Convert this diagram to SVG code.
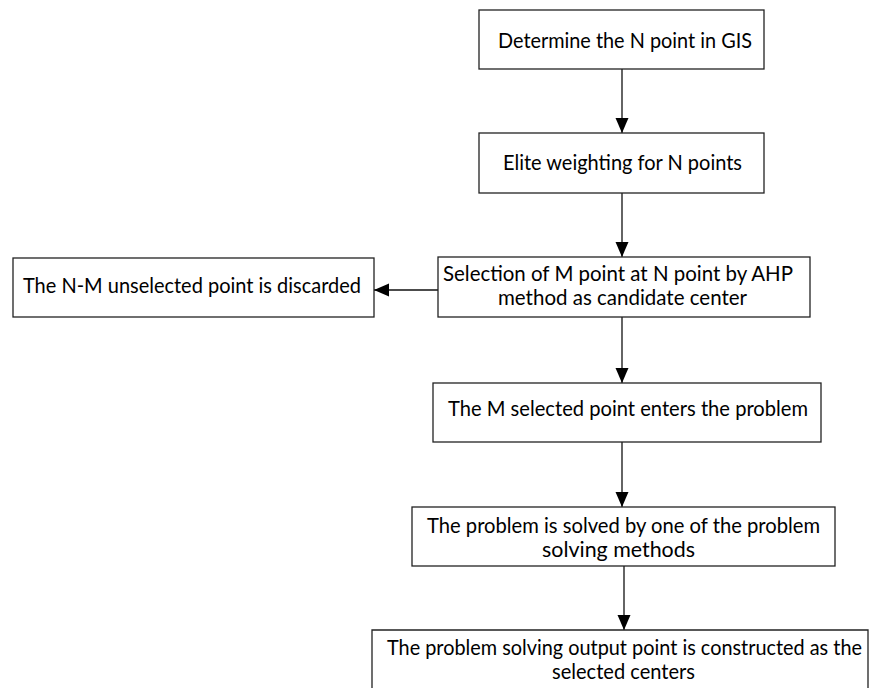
<svg xmlns="http://www.w3.org/2000/svg" width="871" height="688" viewBox="0 0 871 688">
<style>
.box{fill:#fff;stroke:#222;stroke-width:1.3}
.t{font-family:Lato,"Open Sans","Liberation Sans",sans-serif;font-size:21px;fill:#000}
.c{stroke:#111;stroke-width:1.3;fill:none;marker-end:url(#ah)}
</style>
<defs>
<marker id="ah" markerWidth="15" markerHeight="14" refX="15" refY="7" orient="auto" markerUnits="userSpaceOnUse" viewBox="0 0 15 14">
<path d="M0,0.5 L15,7 L0,13.5 Z" fill="#000"/>
</marker>
</defs>
<rect width="871" height="688" fill="#fff"/>
<g id="connectors">
<line class="c" x1="622" y1="69" x2="622" y2="133"/>
<line class="c" x1="622" y1="193" x2="622" y2="257"/>
<line class="c" x1="438" y1="290" x2="374" y2="290"/>
<line class="c" x1="622" y1="317" x2="622" y2="383"/>
<line class="c" x1="622" y1="442" x2="622" y2="507"/>
<line class="c" x1="624" y1="566" x2="624" y2="630"/>
</g>
<g id="n1">
<rect class="box" x="479" y="10" width="285" height="59"/>
<text class="t" x="498" y="48" textLength="254" lengthAdjust="spacingAndGlyphs">Determine the N point in GIS</text>
</g>
<g id="n2">
<rect class="box" x="479" y="133" width="285" height="60"/>
<text class="t" x="503" y="170" textLength="239" lengthAdjust="spacingAndGlyphs">Elite weighting for N points</text>
</g>
<g id="n3">
<rect class="box" x="438" y="257" width="372" height="60"/>
<text class="t" x="443" y="281" textLength="350" lengthAdjust="spacingAndGlyphs">Selection of M point at N point by AHP</text>
<text class="t" x="498" y="305" textLength="249" lengthAdjust="spacingAndGlyphs">method as candidate center</text>
</g>
<g id="n4">
<rect class="box" x="13" y="258" width="361" height="59"/>
<text class="t" x="23" y="293" textLength="338" lengthAdjust="spacingAndGlyphs">The N-M unselected point is discarded</text>
</g>
<g id="n5">
<rect class="box" x="433" y="383" width="388" height="59"/>
<text class="t" x="448" y="416" textLength="360" lengthAdjust="spacingAndGlyphs">The M selected point enters the problem</text>
</g>
<g id="n6">
<rect class="box" x="412" y="507" width="423" height="59"/>
<text class="t" x="427" y="533" textLength="393" lengthAdjust="spacingAndGlyphs">The problem is solved by one of the problem</text>
<text class="t" x="542" y="557" textLength="153" lengthAdjust="spacingAndGlyphs">solving methods</text>
</g>
<g id="n7">
<path class="box" d="M372,690 L372,630 L868,630 L868,690"/>
<text class="t" x="387" y="655" textLength="475" lengthAdjust="spacingAndGlyphs">The problem solving output point is constructed as the</text>
<text class="t" x="552" y="679" textLength="143" lengthAdjust="spacingAndGlyphs">selected centers</text>
</g>
</svg>
